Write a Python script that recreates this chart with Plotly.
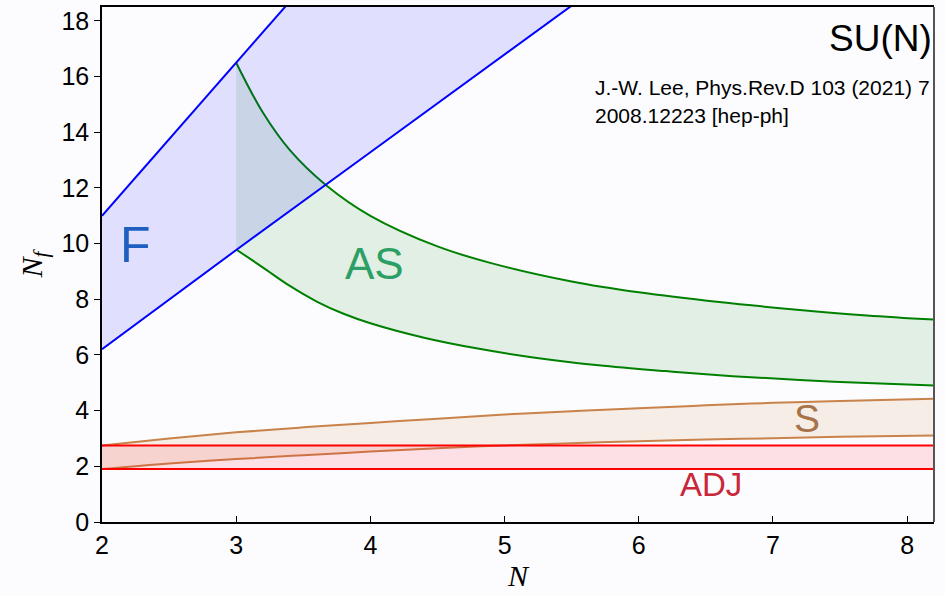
import plotly.graph_objects as go

# fundamental (F)
n_f_up = [2, 3, 3.4]
f_up = [11.0, 16.5, 18.7]
n_f_lo = [2, 3, 4, 5, 5.6]
f_lo = [6.21, 9.77, 13.28, 16.8, 18.9]

# antisymmetric (AS)
n_as_up = [3, 3.2, 3.4, 3.67, 4, 4.5, 4.9, 5.5, 6, 6.6, 7.2, 7.7, 8.2]
as_up = [16.5, 14.7, 13.36, 12.1, 11.0, 9.9, 9.3, 8.64, 8.25, 7.9, 7.62, 7.42, 7.27]
n_as_lo = [3, 3.2, 3.4, 3.6, 3.8, 4, 4.4, 4.8, 5.2, 5.7, 6.2, 6.7, 7.2, 7.7, 8.2]
as_lo = [9.79, 9.14, 8.48, 7.92, 7.48, 7.14, 6.62, 6.23, 5.92, 5.63, 5.42, 5.24, 5.1, 4.99, 4.9]

# symmetric (S)
n_s = [2, 2.5, 3, 3.5, 4, 4.5, 5, 5.5, 6, 6.5, 7, 7.5, 8.2]
s_up = [2.75, 3.0, 3.22, 3.4, 3.56, 3.71, 3.86, 3.98, 4.09, 4.19, 4.28, 4.35, 4.43]
s_lo = [1.9, 2.1, 2.26, 2.4, 2.53, 2.65, 2.75, 2.83, 2.9, 2.96, 3.01, 3.06, 3.11]

# adjoint (ADJ)
n_adj = [2, 8.2]
adj_up = [2.75, 2.75]
adj_lo = [1.9, 1.9]

fig = go.Figure()

def band(nx_lo, y_lo, nx_up, y_up, line_col, fill_col, shape):
    fig.add_trace(go.Scatter(x=nx_lo, y=y_lo, mode='lines', line=dict(color=line_col, width=2, shape=shape)))
    fig.add_trace(go.Scatter(x=nx_up, y=y_up, mode='lines', fill='tonexty', fillcolor=fill_col,
                             line=dict(color=line_col, width=2, shape=shape)))

band(n_as_lo, as_lo, n_as_up, as_up, '#008000', 'rgba(0,128,0,0.10)', 'spline')
band(n_f_lo, f_lo, n_f_up, f_up, '#0000ff', 'rgba(0,0,255,0.11)', 'linear')
band(n_s, s_lo, n_s, s_up, '#c8824a', 'rgba(205,133,63,0.12)', 'spline')
band(n_adj, adj_lo, n_adj, adj_up, '#ff0000', 'rgba(255,0,30,0.11)', 'linear')

lab = dict(family='Liberation Sans')
fig.add_annotation(x=2.25, y=9.95, text='F', showarrow=False, font=dict(lab, size=50, color='#1f5fbf'))
fig.add_annotation(x=4.03, y=9.3, text='AS', showarrow=False, font=dict(lab, size=44, color='#2ca064'))
fig.add_annotation(x=7.25, y=3.73, text='S', showarrow=False, font=dict(lab, size=39, color='#a8724a'))
fig.add_annotation(x=6.54, y=1.33, text='ADJ', showarrow=False, font=dict(lab, size=33, color='#c8283a'))
fig.add_annotation(x=8.2, y=17.38, text='SU(N)', showarrow=False, xanchor='right',
                   font=dict(lab, size=37, color='black'))
fig.add_annotation(x=5.66, y=15.62, text='J.-W. Lee, Phys.Rev.D 103 (2021) 7', showarrow=False,
                   xanchor='left', font=dict(lab, size=21, color='black'))
fig.add_annotation(x=5.66, y=14.61, text='2008.12223 [hep-ph]', showarrow=False,
                   xanchor='left', font=dict(lab, size=21, color='black'))

fig.add_shape(type='line', xref='paper', yref='paper', x0=1, x1=1, y0=0, y1=1,
              line=dict(color='#555555', width=2))

fig.update_layout(
    width=945, height=596, showlegend=False,
    margin=dict(l=102, r=11, t=7, b=74),
    paper_bgcolor='#fcfcfe', plot_bgcolor='#fcfcfe',
    font=dict(family='Liberation Sans', size=25, color='black'),
    xaxis=dict(range=[2, 8.2], dtick=1, ticks='inside', ticklen=6, tickcolor='black',
               showline=True, linecolor='black', linewidth=1.5, mirror=True,
               showgrid=False, zeroline=False, automargin=False,
               title=dict(text='<i>N</i>', font=dict(family='Liberation Serif', size=30), standoff=6)),
    yaxis=dict(range=[0, 18.5], dtick=2, ticks='outside', ticklen=6, tickcolor='black',
               showline=True, linecolor='black', linewidth=1.5,
               showgrid=False, zeroline=False, automargin=False,
               title=dict(text='<i>N</i><sub><i>f</i></sub>', font=dict(family='Liberation Serif', size=30),
                          standoff=10)),
)

fig.write_html("out.html", config={'displayModeBar': False},
               post_script="document.body.style.margin='0px';")
